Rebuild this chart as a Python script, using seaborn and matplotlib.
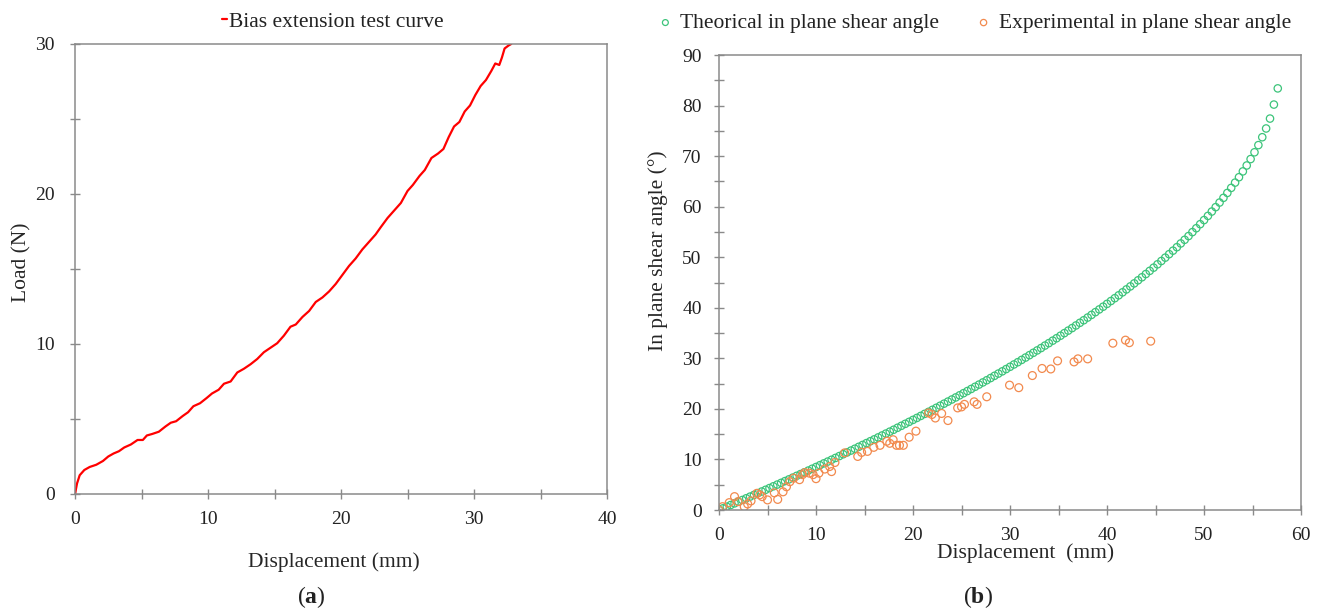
import numpy as np
import pandas as pd
import matplotlib
matplotlib.use('Agg')
import matplotlib.pyplot as plt
from matplotlib.ticker import MultipleLocator
import seaborn as sns

# (a) bias extension test curve
disp_a = [0, 0.15, 0.35, 0.7, 1.1, 1.6, 2.1, 2.5, 2.9, 3.3, 3.7, 4.2, 4.7, 5.1, 5.4,
          5.8, 6.3, 6.8, 7.2, 7.6, 8.1, 8.5, 8.9, 9.4, 9.9, 10.3, 10.8, 11.2, 11.7,
          12.2, 12.7, 13.2, 13.7, 14.2, 14.7, 15.2, 15.7, 16.2, 16.6, 17.1, 17.6,
          18.1, 18.6, 19.1, 19.6, 20.1, 20.6, 21.1, 21.6, 22.1, 22.6, 23.0, 23.5,
          24.0, 24.5, 25.0, 25.4, 25.9, 26.3, 26.8, 27.3, 27.7, 28.1, 28.5, 28.9,
          29.3, 29.7, 30.1, 30.5, 30.9, 31.3, 31.6, 31.9, 32.1, 32.3, 32.6, 32.8]
load_a = [0, 0.7, 1.25, 1.6, 1.8, 1.95, 2.2, 2.5, 2.7, 2.85, 3.1, 3.3, 3.6, 3.6, 3.9,
          4.0, 4.15, 4.5, 4.75, 4.85, 5.2, 5.45, 5.85, 6.05, 6.4, 6.7, 6.95, 7.35, 7.5,
          8.1, 8.35, 8.65, 9.0, 9.45, 9.75, 10.05, 10.55, 11.15, 11.3, 11.8, 12.2,
          12.8, 13.1, 13.5, 14.0, 14.6, 15.2, 15.7, 16.3, 16.8, 17.3, 17.8, 18.4,
          18.9, 19.4, 20.2, 20.6, 21.2, 21.6, 22.4, 22.7, 23.0, 23.8, 24.5, 24.8,
          25.5, 25.9, 26.6, 27.2, 27.6, 28.2, 28.7, 28.6, 29.1, 29.7, 29.9, 30.0]

# (b) theoretical in plane shear angle
disp_theory = [
    0.0, 0.4, 0.8, 1.2, 1.6, 2.0, 2.4, 2.8, 3.2, 3.6, 4.0, 4.4, 4.8, 5.2, 5.6,
    6.0, 6.4, 6.8, 7.2, 7.6, 8.0, 8.4, 8.8, 9.2, 9.6, 10.0, 10.4, 10.8, 11.2, 11.6,
    12.0, 12.4, 12.8, 13.2, 13.6, 14.0, 14.4, 14.8, 15.2, 15.6, 16.0, 16.4, 16.8,
    17.2, 17.6, 18.0, 18.4, 18.8, 19.2, 19.6, 20.0, 20.4, 20.8, 21.2, 21.6, 22.0,
    22.4, 22.8, 23.2, 23.6, 24.0, 24.4, 24.8, 25.2, 25.6, 26.0, 26.4, 26.8, 27.2,
    27.6, 28.0, 28.4, 28.8, 29.2, 29.6, 30.0, 30.4, 30.8, 31.2, 31.6, 32.0, 32.4,
    32.8, 33.2, 33.6, 34.0, 34.4, 34.8, 35.2, 35.6, 36.0, 36.4, 36.8, 37.2, 37.6,
    38.0, 38.4, 38.8, 39.2, 39.6, 40.0, 40.4, 40.8, 41.2, 41.6, 42.0, 42.4, 42.8,
    43.2, 43.6, 44.0, 44.4, 44.8, 45.2, 45.6, 46.0, 46.4, 46.8, 47.2, 47.6, 48.0,
    48.4, 48.8, 49.2, 49.6, 50.0, 50.4, 50.8, 51.2, 51.6, 52.0, 52.4, 52.8, 53.2,
    53.6, 54.0, 54.4, 54.8, 55.2, 55.6, 56.0, 56.4, 56.8, 57.2, 57.6]
angle_theory = [
    0.00, 0.33, 0.66, 0.99, 1.32, 1.65, 1.98, 2.32, 2.65, 2.99, 3.33, 3.66, 4.00,
    4.34, 4.69, 5.03, 5.37, 5.72, 6.06, 6.41, 6.76, 7.11, 7.46, 7.80, 8.16, 8.51,
    8.87, 9.23, 9.58, 9.94, 10.30, 10.67, 11.03, 11.39, 11.76, 12.12, 12.50, 12.87,
    13.24, 13.61, 13.98, 14.36, 14.74, 15.12, 15.50, 15.88, 16.27, 16.66, 17.05,
    17.44, 17.83, 18.22, 18.62, 19.02, 19.42, 19.82, 20.22, 20.63, 21.04, 21.45,
    21.86, 22.27, 22.69, 23.11, 23.53, 23.95, 24.38, 24.81, 25.24, 25.67, 26.11,
    26.55, 26.99, 27.43, 27.88, 28.33, 28.79, 29.24, 29.70, 30.16, 30.63, 31.10,
    31.57, 32.04, 32.53, 33.01, 33.50, 33.98, 34.48, 34.99, 35.49, 35.99, 36.51,
    37.03, 37.54, 38.07, 38.60, 39.14, 39.68, 40.22, 40.78, 41.34, 41.90, 42.47,
    43.06, 43.64, 44.23, 44.83, 45.44, 46.04, 46.68, 47.31, 47.94, 48.60, 49.26,
    49.92, 50.61, 51.30, 51.99, 52.73, 53.45, 54.19, 54.97, 55.74, 56.54, 57.35,
    58.18, 59.04, 59.91, 60.82, 61.75, 62.72, 63.72, 64.76, 65.83, 66.98, 68.15,
    69.42, 70.76, 72.18, 73.74, 75.47, 77.43, 80.20, 83.40]

# (b) experimental in plane shear angle
disp_exp = [0.0, 0.36, 1.05, 1.6, 1.95, 2.6, 2.95, 3.3, 3.9, 4.2, 4.45, 5.0, 5.7,
            6.05, 6.6, 6.95, 7.3, 7.7, 8.3, 8.6, 8.85, 9.3, 9.7, 10.0, 10.3, 10.9,
            11.4, 11.6, 11.95, 12.95, 14.3, 14.7, 15.3, 15.95, 16.6, 17.3, 17.6,
            17.95, 18.3, 18.6, 19.0, 19.6, 20.3, 21.6, 21.95, 22.3, 22.95, 23.6,
            24.6, 25.0, 25.3, 26.3, 26.6, 27.6, 29.95, 30.9, 32.3, 33.3, 34.2, 34.9,
            36.6, 37.0, 38.0, 40.6, 41.9, 42.3, 44.5]
angle_exp = [0.0, 0.66, 1.46, 2.65, 1.66, 0.66, 1.2, 1.8, 3.3, 3.0, 2.65, 2.0, 3.4,
             2.1, 3.6, 4.6, 5.6, 6.3, 6.0, 7.0, 7.4, 7.3, 7.0, 6.2, 7.3, 8.1, 8.6,
             7.6, 9.4, 11.3, 10.6, 11.4, 11.6, 12.4, 12.8, 13.6, 13.2, 13.9, 12.8,
             12.8, 12.8, 14.4, 15.6, 19.2, 18.9, 18.2, 19.1, 17.7, 20.2, 20.4, 20.9,
             21.4, 20.9, 22.4, 24.7, 24.2, 26.6, 28.0, 27.9, 29.5, 29.3, 29.9, 29.9,
             33.0, 33.6, 33.1, 33.4]

green = '#3cc47a'
orange = '#f28a4e'
spine_col = '#8a8a8a'
text_col = '#222222'

sns.set_style('ticks')
plt.rcParams['font.family'] = ['Liberation Serif', 'DejaVu Serif']
plt.rcParams['mathtext.fontset'] = 'custom'
plt.rcParams['mathtext.bf'] = 'Liberation Serif:bold'
plt.rcParams['text.color'] = text_col

fig = plt.figure(figsize=(13.21, 6.10), dpi=100)
ax1 = fig.add_axes([0.0568, 0.1902, 0.4027, 0.7377])
ax2 = fig.add_axes([0.5443, 0.1639, 0.4406, 0.7459])

df_a = pd.DataFrame({'disp': disp_a, 'load': load_a})
sns.lineplot(data=df_a, x='disp', y='load', color='#ff0000', lw=1.6, ax=ax1,
             label='Bias extension test curve')

df_t = pd.DataFrame({'disp': disp_theory, 'angle': angle_theory})
df_e = pd.DataFrame({'disp': disp_exp, 'angle': angle_exp})
sns.scatterplot(data=df_t, x='disp', y='angle', ax=ax2, marker='o', s=28,
                facecolor='none', edgecolor=green, linewidth=0.9,
                label='Theorical in plane shear angle')
sns.scatterplot(data=df_e, x='disp', y='angle', ax=ax2, marker='o', s=32,
                facecolor='none', edgecolor=orange, linewidth=0.9,
                label='Experimental in plane shear angle')

ax1.set_xlim(0, 40)
ax1.set_ylim(0, 30)
ax1.xaxis.set_major_locator(MultipleLocator(10))
ax1.xaxis.set_minor_locator(MultipleLocator(5))
ax1.yaxis.set_major_locator(MultipleLocator(10))
ax1.yaxis.set_minor_locator(MultipleLocator(5))

ax2.set_xlim(0, 60)
ax2.set_ylim(0, 90)
ax2.xaxis.set_major_locator(MultipleLocator(10))
ax2.xaxis.set_minor_locator(MultipleLocator(5))
ax2.yaxis.set_major_locator(MultipleLocator(10))
ax2.yaxis.set_minor_locator(MultipleLocator(5))

for ax in (ax1, ax2):
    for sp in ax.spines.values():
        sp.set_visible(True)
        sp.set_color(spine_col)
        sp.set_linewidth(1.1)
    ax.tick_params(which='both', direction='inout', length=7, width=1,
                   color=spine_col, labelsize=14, labelcolor=text_col)
    ax.tick_params(axis='x', which='both', pad=9)

ax1.tick_params(axis='y', which='both', pad=11)
ax2.tick_params(axis='y', which='both', pad=9)

ax1.set_xlabel('Displacement (mm)', fontsize=15.5, va='center')
ax1.xaxis.set_label_coords(0.487, -0.151)
ax1.set_ylabel('Load (N)', fontsize=15.5, va='center')
ax1.yaxis.set_label_coords(-0.0996, 0.516)

ax2.set_xlabel('Displacement  (mm)', fontsize=15.5, va='center')
ax2.xaxis.set_label_coords(0.527, -0.0945)
ax2.set_ylabel('In plane shear angle (°)', fontsize=15.5, va='center')
ax2.yaxis.set_label_coords(-0.1048, 0.569)

ax1.legend(loc='center', bbox_to_anchor=(0.252, 0.964), bbox_transform=fig.transFigure,
           frameon=False, fontsize=15.5, handlelength=0.2, handletextpad=0.1)
ax2.legend(loc='center', bbox_to_anchor=(0.738, 0.962), bbox_transform=fig.transFigure,
           frameon=False, fontsize=15.5, ncol=2, handlelength=0.6, handletextpad=0.4,
           columnspacing=1.75, markerscale=0.8)

fig.text(0.2354, 0.0213, r'($\mathbf{a}$)', fontsize=17, ha='center', va='center')
fig.text(0.7403, 0.0213, r'($\mathbf{b}$)', fontsize=17, ha='center', va='center')

fig.savefig('out.png', dpi=100)
